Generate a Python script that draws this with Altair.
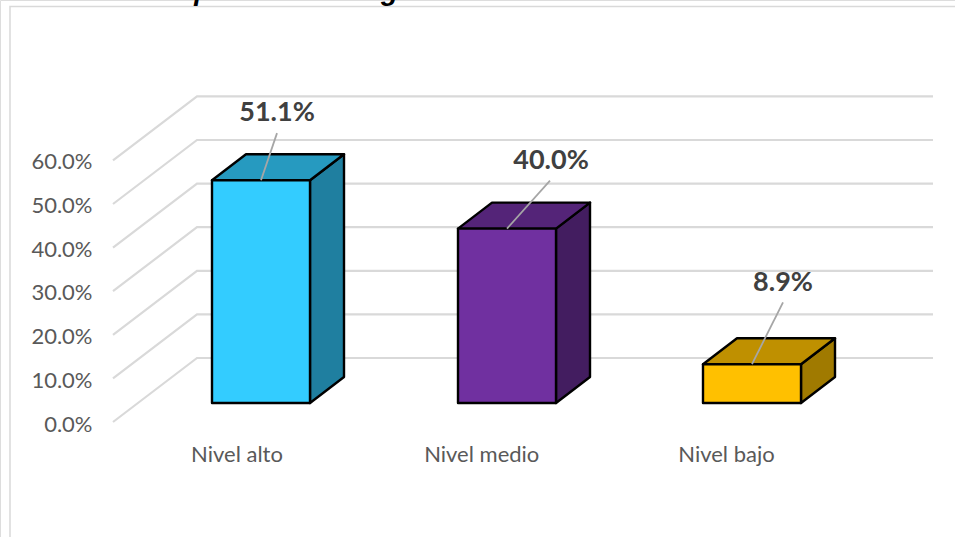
import altair as alt
import pandas as pd

# Survey results
categories = ["Nivel alto", "Nivel medio", "Nivel bajo"]
values = [51.1, 40.0, 8.9]
tick_values = [0, 10, 20, 30, 40, 50, 60]
caption = "Tabla 6. Competencia de digitales en salud mental de los estudiantes"

# Colours for each bar: front, top and side faces
front_colors = ["#33CCFF", "#7030A0", "#FFC000"]
top_colors = ["#269AC0", "#542478", "#BF9000"]
side_colors = ["#1F7FA0", "#431D60", "#A07A00"]

# Oblique-box layout, in chart pixels
W, H = 955, 537
PX_PER_PCT = 4.36
FLOOR_Y = 403          # pixel row of value 0 on the bars' front plane
BAR_LEFT = [212, 458, 703]
BAR_W = 98
DEPTH_X, DEPTH_Y = 34, 26
WALL_X0, WALL_X1, WALL_X2 = 113, 197, 933
WALL_FRONT_DROP, WALL_BACK_RISE = 19, 45
LABEL_X = [277, 551, 783]
LEADER_X = [277, 550, 783]
LEADER_RISE = [10.8, 11.0, 14.2]   # points above the bar's value
LABEL_RISE = [15.3, 15.4, 18.6]


def lift(px):
    return px / PX_PER_PCT


X = alt.X("x:Q", scale=alt.Scale(domain=[0, W], range=[0, W]), axis=None)
Y = alt.Y("y:Q",
          scale=alt.Scale(domain=[-(H - FLOOR_Y) / PX_PER_PCT, FLOOR_Y / PX_PER_PCT], range=[H, 0]),
          axis=None)

# Gridlines: up the side wall, then along the back wall
grid_rows = []
for t in tick_values:
    grid_rows += [
        {"t": t, "o": 0, "x": WALL_X0, "y": t - lift(WALL_FRONT_DROP)},
        {"t": t, "o": 1, "x": WALL_X1, "y": t + lift(WALL_BACK_RISE)},
        {"t": t, "o": 2, "x": WALL_X2, "y": t + lift(WALL_BACK_RISE)},
    ]
grid = alt.Chart(pd.DataFrame(grid_rows)).mark_line(color="#D9D9D9", strokeWidth=2.2).encode(
    x=X, y=Y, detail="t:N", order="o:Q"
)

# Frame around the chart area
frame = alt.Chart(pd.DataFrame([
    {"x": 10, "y": -200, "o": 0},
    {"x": 10, "y": lift(FLOOR_Y - 6.5), "o": 1},
    {"x": W, "y": lift(FLOOR_Y - 6.5), "o": 2},
])).mark_line(color="#D9D9D9", strokeWidth=1.5).encode(x=X, y=Y, order="o:Q")

# Caption line running off the top edge of the page
caption_mark = alt.Chart(pd.DataFrame([
    {"x": 21, "y": lift(FLOOR_Y), "label": caption},
])).mark_text(
    font="Liberation Sans", fontSize=28, fontWeight="bold", fontStyle="italic",
    color="#000000", align="left", baseline="alphabetic"
).encode(x=X, y=Y, text="label:N")

bar_layers = []
for i, cat in enumerate(categories):
    left, right, v = BAR_LEFT[i], BAR_LEFT[i] + BAR_W, values[i]
    d = lift(DEPTH_Y)
    stroke = dict(stroke="#000000", strokeWidth=2.4, strokeJoin="round")

    side = pd.DataFrame([
        {"x": right, "y": v, "y2": 0},
        {"x": right + DEPTH_X, "y": v + d, "y2": d},
    ])
    top = pd.DataFrame([
        {"y": v, "x": left, "x2": right},
        {"y": v + d, "x": left + DEPTH_X, "x2": right + DEPTH_X},
    ])
    front = pd.DataFrame([{"x": left, "x2": right, "y": v, "y2": 0}])

    bar_layers += [
        alt.Chart(side).mark_area(color=side_colors[i], **stroke).encode(x=X, y=Y, y2="y2:Q"),
        alt.Chart(top).mark_area(color=top_colors[i], orient="horizontal", **stroke).encode(
            y=Y, x=X, x2="x2:Q"),
        alt.Chart(front).mark_rect(color=front_colors[i], **stroke).encode(
            x=X, x2="x2:Q", y=Y, y2="y2:Q"),
    ]

# Leader lines running from each bar's top edge to its label
leader_rows, label_rows = [], []
for i, cat in enumerate(categories):
    mid = BAR_LEFT[i] + BAR_W / 2
    leader_rows += [
        {"c": cat, "o": 0, "x": mid, "y": values[i]},
        {"c": cat, "o": 1, "x": LEADER_X[i], "y": values[i] + LEADER_RISE[i]},
    ]
    label_rows.append({"x": LABEL_X[i], "y": values[i] + LABEL_RISE[i],
                       "label": f"{values[i]:.1f}%"})
leaders = alt.Chart(pd.DataFrame(leader_rows)).mark_line(color="#A6A6A6", strokeWidth=1.8).encode(
    x=X, y=Y, detail="c:N", order="o:Q"
)
labels = alt.Chart(pd.DataFrame(label_rows)).mark_text(
    font="Lato", fontSize=27, fontWeight="bold", color="#404040", align="center", baseline="middle"
).encode(x=X, y=Y, text="label:N")

# Value and category axes, placed in front of the floor
axes_data = pd.DataFrame({"cat": categories, "v": values})
axes = alt.Chart(axes_data).mark_point(opacity=0).encode(
    x=alt.X("cat:N", sort=categories, title=None,
            scale=alt.Scale(type="point", domain=categories, range=[236.5, 726], padding=0),
            axis=alt.Axis(domain=False, ticks=False, labelAngle=0, labelFont="Lato", labelFontSize=22,
                          labelColor="#595959", labelPadding=0, offset=-(H - 444), grid=False)),
    y=alt.Y("v:Q", title=None,
            scale=alt.Scale(domain=[-(H - 424) / 4.37, 424 / 4.37], range=[H, 0]),
            axis=alt.Axis(values=tick_values, labelExpr="format(datum.value, '.1f') + '%'",
                          domain=False, ticks=False, labelFont="Lato", labelFontSize=22,
                          labelColor="#595959", labelPadding=0, offset=-92, grid=False)),
)

scene = alt.layer(frame, caption_mark, grid, *bar_layers, leaders, labels)

chart = alt.layer(axes, scene).resolve_scale(x="independent", y="independent").properties(
    width=W, height=H, padding=0, autosize=alt.AutoSizeParams(type="none")
).configure_view(stroke=None).configure(background="white")

chart.save("out.html", embed_options={"renderer": "svg", "actions": False})
